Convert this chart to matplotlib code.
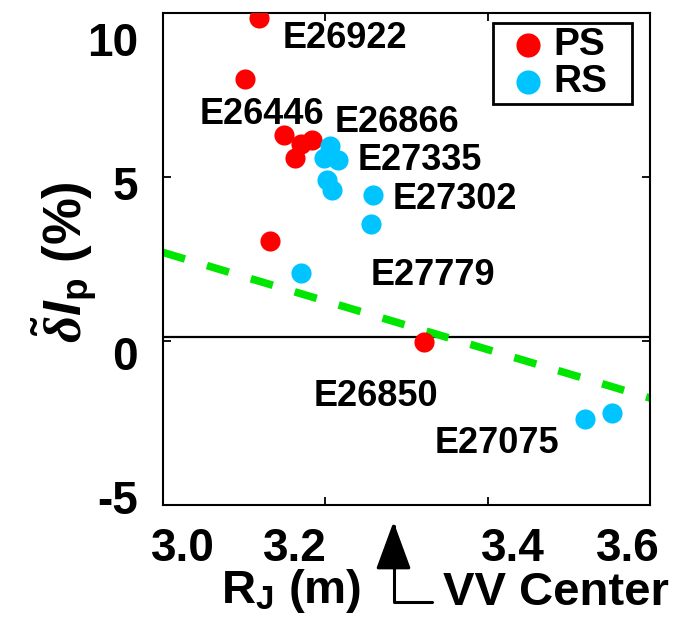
import matplotlib
matplotlib.use('Agg')
import matplotlib.pyplot as plt

plt.rcParams['font.family'] = ['Liberation Sans', 'DejaVu Sans']
plt.rcParams['font.weight'] = 'bold'
plt.rcParams['mathtext.fontset'] = 'custom'
plt.rcParams['mathtext.rm'] = 'Liberation Sans:bold'
plt.rcParams['mathtext.bf'] = 'Liberation Sans:bold'
plt.rcParams['mathtext.it'] = 'Liberation Serif:italic'
plt.rcParams['mathtext.bfit'] = 'Liberation Sans:bold:italic'

# shot data: R_J (m) and delta Ip (%)
ps_r = [3.118, 3.101, 3.149, 3.170, 3.183, 3.163, 3.132, 3.321]
ps_dip = [9.84, 8.00, 6.29, 6.01, 6.13, 5.57, 3.05, -0.02]
rs_r = [3.206, 3.198, 3.216, 3.202, 3.208, 3.259, 3.256, 3.170, 3.520, 3.553]
rs_dip = [5.93, 5.57, 5.52, 4.91, 4.60, 4.45, 3.56, 2.06, -2.37, -2.20]

# linear trend (green dashed)
fit_r = [3.0, 3.6]
fit_dip = [2.70, -1.74]

shot_names = ['E26922', 'E26446', 'E26866', 'E27335', 'E27302', 'E27779', 'E26850', 'E27075']
shot_label_r = [3.224, 3.122, 3.288, 3.317, 3.360, 3.333, 3.262, 3.411]
shot_label_dip = [9.33, 7.02, 6.78, 5.64, 4.45, 2.12, -1.56, -3.01]

x_ticks = [3.0, 3.2, 3.4, 3.6]
x_tick_labels = ['3.0', '3.2', '3.4', '3.6']
x_label_pos = [3.025, 3.163, 3.431, 3.573]
y_ticks = [-5, 0, 5, 10]
y_tick_labels = ['-5', '0', '5', '10']
y_label_pos = [-4.75, -0.37, 4.82, 9.2]

vv_center = 3.284

red = '#ff0000'
cyan = '#00c4ff'
green = '#00e600'

fig = plt.figure(figsize=(6.77, 6.17), dpi=100)
ax = fig.add_axes([163 / 677, 1 - 505 / 617, 487 / 677, 492 / 617])

ax.axhline(0.12, color='black', lw=1.6, zorder=1)
ax.plot(fit_r, fit_dip, color=green, lw=5.5, dashes=(3, 3), zorder=2)
ax.scatter(ps_r, ps_dip, s=210, color=red, linewidths=0, label='PS', zorder=3)
ax.scatter(rs_r, rs_dip, s=210, color=cyan, linewidths=0, label='RS', zorder=4)

for name, xr, yd in zip(shot_names, shot_label_r, shot_label_dip):
    ax.text(xr, yd, name, fontsize=26, fontweight='bold', ha='center', va='center_baseline', zorder=5)

ax.set_xlim(3.0, 3.6)
ax.set_ylim(-5, 10)

# tick marks at true positions, labels where the original figure draws them
ax.set_xticks(x_ticks)
ax.set_xticklabels([])
ax.set_xticks(x_label_pos, minor=True)
ax.set_xticklabels(x_tick_labels, minor=True)
ax.set_yticks(y_ticks)
ax.set_yticklabels([])
ax.set_yticks(y_label_pos, minor=True)
ax.set_yticklabels(y_tick_labels, minor=True)
ax.tick_params(which='major', direction='in', length=6, width=1.3, top=True, right=True)
ax.tick_params(which='minor', length=0, labelsize=33)
ax.tick_params(axis='x', which='minor', pad=16)
ax.tick_params(axis='y', which='minor', pad=18)
for sp in ax.spines.values():
    sp.set_linewidth(1.5)

ax.set_xlabel(r'R$_\mathbf{J}$ (m)', fontsize=34, fontweight='bold', va='top')
ax.xaxis.set_label_coords(0.263, -0.127)
ax.set_ylabel(r'$\tilde{\delta}\mathbfit{I}_\mathbf{p}$ (%)', fontsize=38, fontweight='bold')
ax.yaxis.set_label_coords(-0.13, 0.494)

ax.annotate('VV Center', xy=(vv_center, -0.034), xycoords=('data', 'axes fraction'),
            xytext=(0.575, -0.203), textcoords='axes fraction',
            fontsize=34, fontweight='bold', ha='left', va='baseline',
            arrowprops=dict(arrowstyle='-|>,head_length=1.5,head_width=0.55',
                            connectionstyle='angle,angleA=0,angleB=90,rad=0',
                            mutation_scale=20, relpos=(0, 0.3),
                            color='black', lw=2.2, shrinkA=6, shrinkB=0),
            annotation_clip=False)

leg = ax.legend(loc='upper left', bbox_to_anchor=(0.678, 0.0, 0.285, 0.980), mode='expand',
                borderaxespad=0, fontsize=28, fancybox=False, framealpha=1, edgecolor='black',
                markerscale=1.2, handlelength=1.6, handletextpad=-0.15,
                labelspacing=0.03, borderpad=0.1)
leg.get_frame().set_linewidth(2)

fig.savefig('out.png', dpi=100)
